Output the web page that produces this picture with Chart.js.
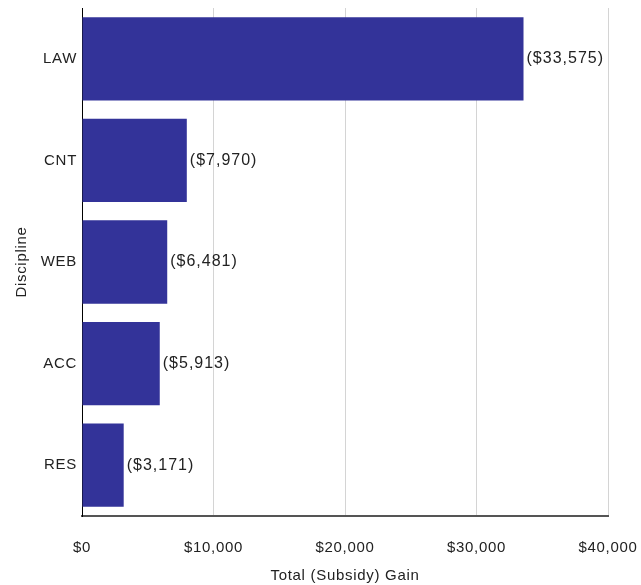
<!DOCTYPE html>
<html>
<head>
<meta charset="utf-8">
<script src="https://cdn.jsdelivr.net/npm/chart.js@4"></script>
<style>
  html, body { margin: 0; padding: 0; background: #fff; }
  #wrap { width: 641px; height: 585px; }
</style>
</head>
<body>
<div id="wrap"><canvas id="chart"></canvas></div>
<script>
const disciplines = ['LAW', 'CNT', 'WEB', 'ACC', 'RES'];
const gains = [33575, 7970, 6481, 5913, 3171];
const gainLabels = ['($33,575)', '($7,970)', '($6,481)', '($5,913)', '($3,171)'];
const xTicks = [0, 10000, 20000, 30000, 40000];

const fontFamily = '"Liberation Sans", sans-serif';

// a bit of letter spacing for all text, the original looks wider
const spacing = {
  id: 'spacing',
  beforeDraw(chart) {
    chart.ctx.letterSpacing = '0.7px';
  }
};

// draws the value text right of each bar
const barText = {
  id: 'barText',
  afterDatasetsDraw(chart) {
    const ctx = chart.ctx;
    const meta = chart.getDatasetMeta(0);
    ctx.save();
    ctx.font = '16px ' + fontFamily;
    ctx.letterSpacing = '1px';
    ctx.fillStyle = '#222';
    ctx.textAlign = 'left';
    ctx.textBaseline = 'middle';
    meta.data.forEach((bar, i) => {
      ctx.fillText(gainLabels[i], bar.x + 3, bar.y);
    });
    ctx.restore();
  }
};

new Chart(document.getElementById('chart').getContext('2d'), {
  type: 'bar',
  data: {
    labels: disciplines,
    datasets: [{
      data: gains,
      backgroundColor: '#333399',
      borderWidth: 0,
      barPercentage: 0.82,
      categoryPercentage: 1
    }]
  },
  options: {
    indexAxis: 'y',
    responsive: true,
    maintainAspectRatio: false,
    animation: false,
    layout: { padding: { top: 8, right: 33, bottom: 0, left: 13 } },
    plugins: {
      legend: { display: false },
      tooltip: { enabled: false }
    },
    scales: {
      x: {
        min: 0,
        max: 40000,
        afterBuildTicks(axis) { axis.ticks = xTicks.map(v => ({ value: v })); },
        afterFit(axis) {
          axis.height = 69;
          axis.paddingLeft = 0;
          axis.paddingRight = 0;
        },
        grid: { color: '#d4d4d4', drawTicks: false },
        border: { color: '#555', width: 2 },
        ticks: {
          padding: 23,
          color: '#222',
          font: { family: fontFamily, size: 15 },
          callback: v => '$' + v.toLocaleString('en-US')
        },
        title: {
          display: true,
          text: 'Total (Subsidy) Gain',
          color: '#222',
          font: { family: fontFamily, size: 15 },
          padding: { top: 0, bottom: 0 }
        }
      },
      y: {
        afterFit(axis) {
          axis.width = 69;
          axis.paddingTop = 0;
          axis.paddingBottom = 0;
        },
        grid: { display: false, drawTicks: false },
        border: { color: '#000', width: 1 },
        ticks: {
          padding: 5,
          color: '#222',
          font: { family: fontFamily, size: 15 }
        },
        title: {
          display: true,
          text: 'Discipline',
          color: '#222',
          font: { family: fontFamily, size: 15 },
          padding: { top: 0, bottom: 0 }
        }
      }
    }
  },
  plugins: [spacing, barText]
});
</script>
</body>
</html>
